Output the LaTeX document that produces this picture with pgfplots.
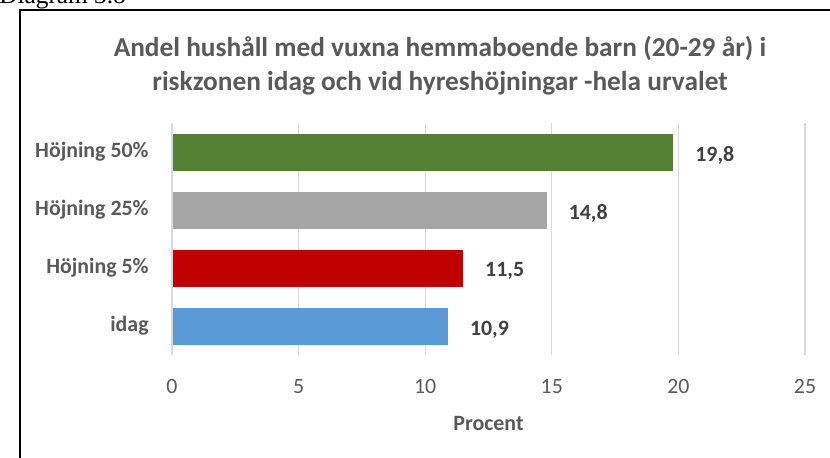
\documentclass[border=0pt]{standalone}
\usepackage{fontspec}
\setmainfont{Carlito}
\newfontfamily\seriffont{Liberation Serif}
\usepackage{pgfplots}
\pgfplotsset{compat=1.18}
\definecolor{txt}{HTML}{595959}
\definecolor{val}{HTML}{404040}
\definecolor{gridc}{HTML}{D9D9D9}
\definecolor{cgreen}{HTML}{548235}
\definecolor{cgray}{HTML}{A5A5A5}
\definecolor{cred}{HTML}{C00000}
\definecolor{cblue}{HTML}{5B9BD5}
\begin{document}
\begin{tikzpicture}[x=0.75pt,y=0.75pt]
\useasboundingbox (0,0) rectangle (830,457);
\draw[line width=1.4pt] (20,-20) -- (20,447) -- (880,447);
\node[anchor=base west, inner sep=0, font=\seriffont\fontsize{19}{19}\selectfont] at (-1,453.5) {Diagram 3.8};
\node[align=center, text=txt, font=\bfseries\fontsize{20.5}{25.5}\selectfont] at (440,391) {Andel hushåll med vuxna hemmaboende barn (20-29 år) i\\riskzonen idag och vid hyreshöjningar -hela urvalet};
\begin{axis}[
  at={(129pt,76.5pt)}, anchor=south west,
  scale only axis, width=474.75pt, height=174pt,
  xbar, bar width=27.75pt,
  xmin=0, xmax=25, ymin=-0.5, ymax=3.5,
  xtick={0,5,...,25},
  ytick={0,1,2,3},
  yticklabels={idag, Höjning 5\%, Höjning 25\%, Höjning 50\%},
  xmajorgrids, grid style={gridc, line width=0.9pt},
  axis line style={draw=none},
  axis x line*=bottom, axis y line*=left,
  major tick length=0pt,
  /pgf/number format/assume math mode=true,
  xticklabel style={text=txt, font=\fontsize{16.4}{16}\selectfont, yshift=-15pt},
  yticklabel style={text=txt, font=\bfseries\fontsize{16.4}{16}\selectfont, xshift=-14pt},
  xlabel={Procent},
  xlabel style={text=txt, font=\bfseries\fontsize{16.4}{16}\selectfont, yshift=-9.5pt},
  nodes near coords={\pgfmathprintnumber[assume math mode=true,use comma,fixed,precision=1,fixed zerofill]{\pgfplotspointmeta}},
  every node near coord/.append style={text=val, font=\bfseries\fontsize{16.4}{16}\selectfont, anchor=west, xshift=13pt, yshift=-2.5pt},
]
\addplot[fill=cblue, draw=none, bar shift=0pt] coordinates {(10.9,0)};
\addplot[fill=cred, draw=none, bar shift=0pt] coordinates {(11.5,1)};
\addplot[fill=cgray, draw=none, bar shift=0pt] coordinates {(14.8,2)};
\addplot[fill=cgreen, draw=none, bar shift=0pt] coordinates {(19.8,3)};
\draw[gridc, line width=0.9pt] (axis cs:0,-0.5) -- (axis cs:0,3.5);
\end{axis}
\end{tikzpicture}
\end{document}
